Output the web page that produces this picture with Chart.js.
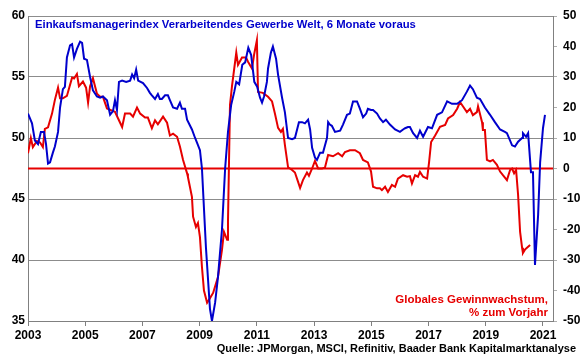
<!DOCTYPE html>
<html><head><meta charset="utf-8">
<script src="https://cdn.jsdelivr.net/npm/chart.js@4"></script>
<style>html,body{margin:0;padding:0;background:#fff}#wrap{width:580px;height:359px}</style>
</head><body><div id="wrap"><canvas id="c" width="580" height="359"></canvas></div>
<script>
const titleText = "Einkaufsmanagerindex Verarbeitendes Gewerbe Welt, 6 Monate voraus";
const redLabel = ["Globales Gewinnwachstum,", "% zum Vorjahr"];
const sourceText = "Quelle: JPMorgan, MSCI, Refinitiv, Baader Bank Kapitalmarktanalyse";
const xTicks = [2003,2005,2007,2009,2011,2013,2015,2017,2019,2021];
const leftTicks = [35,40,45,50,55,60];
const rightTicks = [-50,-40,-30,-20,-10,0,10,20,30,40,50];

// PMI (left axis), 6 months ahead
const pmiT = [2003.00,2003.14,2003.24,2003.35,2003.45,2003.56,2003.63,2003.70,2003.77,2003.87,2003.94,2004.05,2004.12,2004.22,2004.29,2004.36,2004.47,2004.54,2004.61,2004.71,2004.82,2004.89,2004.96,2005.06,2005.17,2005.27,2005.41,2005.52,2005.62,2005.76,2005.87,2005.97,2006.04,2006.11,2006.18,2006.29,2006.43,2006.57,2006.64,2006.71,2006.78,2006.85,2007.02,2007.16,2007.26,2007.33,2007.44,2007.54,2007.61,2007.68,2007.79,2007.89,2007.96,2008.07,2008.21,2008.31,2008.38,2008.49,2008.56,2008.73,2008.84,2008.91,2009.01,2009.08,2009.22,2009.36,2009.43,2009.54,2009.64,2009.78,2009.89,2009.99,2010.10,2010.21,2010.28,2010.38,2010.49,2010.59,2010.70,2010.80,2010.91,2011.01,2011.11,2011.18,2011.25,2011.35,2011.39,2011.49,2011.56,2011.67,2011.74,2011.88,2011.98,2012.09,2012.23,2012.33,2012.47,2012.58,2012.68,2012.79,2012.86,2012.93,2013.03,2013.10,2013.21,2013.31,2013.45,2013.49,2013.55,2013.62,2013.73,2013.91,2014.01,2014.15,2014.25,2014.36,2014.50,2014.60,2014.71,2014.82,2014.88,2014.99,2015.06,2015.20,2015.30,2015.41,2015.51,2015.65,2015.83,2016.00,2016.11,2016.18,2016.28,2016.35,2016.46,2016.60,2016.70,2016.81,2016.98,2017.12,2017.30,2017.47,2017.65,2017.82,2018.00,2018.17,2018.34,2018.45,2018.55,2018.69,2018.80,2018.97,2019.15,2019.32,2019.50,2019.67,2019.74,2019.92,2020.02,2020.13,2020.27,2020.30,2020.41,2020.48,2020.58,2020.65,2020.72,2020.83,2020.90,2021.00,2021.07];
const pmiV = [52.0,51.2,49.8,49.5,50.5,50.5,49.5,47.9,48.0,48.8,49.3,50.5,52.5,54.0,54.2,56.6,57.6,57.7,56.6,57.3,57.9,57.8,56.5,56.4,55.0,53.9,53.4,53.3,53.4,53.1,51.9,52.2,53.1,52.3,54.6,54.7,54.6,54.7,55.2,54.9,55.6,54.7,54.5,54.1,53.7,53.5,53.2,53.6,53.2,53.2,53.5,53.5,53.1,52.5,52.4,52.9,52.4,52.4,51.5,50.7,50.0,49.6,49.0,47.5,41.0,36.0,35.0,36.5,38.6,42.5,47.5,50.5,52.7,53.8,54.6,54.4,56.0,56.2,57.4,56.8,54.6,54.2,53.3,52.9,53.4,54.6,55.7,57.0,57.5,56.5,55.2,53.3,52.1,50.0,49.9,50.0,51.3,51.3,51.2,51.5,50.7,49.2,48.4,48.2,48.8,48.8,50.0,51.3,51.1,51.0,50.5,50.6,51.1,51.9,52.0,53.0,53.0,52.4,51.7,52.0,52.4,52.3,52.3,52.0,51.6,51.3,51.5,51.1,50.7,50.5,50.7,50.8,50.9,50.9,50.4,50.0,50.6,50.1,50.9,50.8,51.9,52.1,53.0,52.8,52.8,53.1,53.8,54.3,54.0,53.3,53.2,52.5,51.9,51.3,50.7,50.5,50.4,49.4,49.3,49.7,50.0,50.4,50.1,50.4,47.2,47.2,39.6,43.7,48.0,50.8,51.9];

// Global earnings growth, % y/y (right axis)
const epsT = [2003.00,2003.10,2003.17,2003.31,2003.42,2003.52,2003.59,2003.70,2003.84,2003.94,2004.05,2004.12,2004.22,2004.36,2004.54,2004.61,2004.71,2004.78,2004.92,2005.03,2005.10,2005.17,2005.27,2005.41,2005.52,2005.62,2005.76,2005.94,2006.04,2006.15,2006.29,2006.39,2006.57,2006.67,2006.81,2006.92,2007.09,2007.19,2007.33,2007.44,2007.54,2007.72,2007.86,2007.96,2008.07,2008.21,2008.31,2008.42,2008.56,2008.59,2008.73,2008.77,2008.87,2008.94,2009.01,2009.08,2009.15,2009.26,2009.36,2009.47,2009.64,2009.78,2009.85,2009.96,2009.99,2010.06,2010.13,2010.28,2010.34,2010.48,2010.62,2010.69,2010.83,2010.90,2011.00,2011.04,2011.21,2011.39,2011.53,2011.63,2011.74,2011.84,2011.91,2011.98,2012.09,2012.23,2012.33,2012.44,2012.51,2012.61,2012.75,2012.82,2012.93,2013.03,2013.14,2013.28,2013.38,2013.49,2013.66,2013.84,2013.98,2014.08,2014.25,2014.43,2014.60,2014.71,2014.88,2014.99,2015.06,2015.20,2015.30,2015.37,2015.48,2015.58,2015.72,2015.83,2015.93,2016.11,2016.25,2016.35,2016.42,2016.53,2016.63,2016.70,2016.81,2016.95,2017.02,2017.09,2017.23,2017.40,2017.58,2017.68,2017.86,2018.00,2018.10,2018.20,2018.34,2018.45,2018.55,2018.69,2018.73,2018.87,2018.90,2018.97,2019.04,2019.15,2019.25,2019.39,2019.50,2019.60,2019.74,2019.85,2019.92,2019.99,2020.06,2020.13,2020.20,2020.27,2020.30,2020.37,2020.44,2020.55];
const epsV = [5,10,7,9,8.5,7,13,13.5,18,22.5,26.5,23,23,23.8,29.8,29.5,31,27,28.5,26.5,21.6,27,29.6,24.5,23.5,23.5,19.7,19,18.6,16.4,13.6,18,18,17,20,18,16.7,16.7,13.2,15.8,14.5,17,15,10.8,11.4,10.4,7.2,2.8,-1.6,-2.8,-9.3,-15.8,-19.2,-17.9,-22.5,-32.3,-40,-44,-42.5,-40.8,-35.6,-26.7,-20.8,-23.4,-17.5,20.8,27,38,34,36.4,36.4,35,32.8,37.2,42,25.1,24.8,23.5,22,18,13.3,12,13,7.7,0.4,-0.5,-1.3,-4.4,-6.4,-3.8,-1.3,-2.4,0,2.5,0,0,0.3,4.4,4,5,4,5.4,6,6,5,2.8,2,-1,-6,-6.5,-6.5,-7.1,-6,-7.7,-5.4,-6,-3.3,-2.2,-2.7,-2.5,-4.9,-2.2,-2.7,-1.1,-2.7,-3.3,2.2,8.7,10.8,13.7,14.3,16.4,17.5,19.6,21.8,20.4,18.5,19.6,17.5,18.5,20.4,15.2,12.6,12.6,2.8,2.3,2.8,1.2,-1,-2.2,-3.8,-0.5,0,-1.6,-0.5,-8.7,-20.8,-26,-27.7,-26.6,-26,-25.1];

const zeroLine = [0, 0];
const xMin = 2003, xMax = 2021.35;

const BLUE = '#0000cc', RED = '#e60000';
const tickFont = {family: '"Liberation Sans", Arial, sans-serif', size: 12, weight: 'bold'};

const textPlugin = {
  id: 'texts',
  afterDraw(chart) {
    const ctx = chart.ctx;
    ctx.save();
    ctx.textBaseline = 'middle';
    ctx.font = 'bold 11.3px "Liberation Sans", Arial, sans-serif';
    ctx.fillStyle = BLUE;
    ctx.textAlign = 'left';
    ctx.fillText(titleText, 35, 25);
    ctx.fillStyle = RED;
    ctx.textAlign = 'right';
    ctx.font = 'bold 11.5px "Liberation Sans", Arial, sans-serif';
    ctx.fillText(redLabel[0], 548, 300);
    ctx.fillText(redLabel[1], 548, 313);
    ctx.fillStyle = '#000';
    ctx.font = 'bold 11px "Liberation Sans", Arial, sans-serif';
    ctx.fillText(sourceText, 576, 349);
    ctx.restore();
  }
};

new Chart(document.getElementById('c'), {
  type: 'line',
  data: {
    datasets: [
      {label: 'zero', data: [{x: xMin, y: zeroLine[0]}, {x: xMax, y: zeroLine[1]}], yAxisID: 'y2', borderColor: RED, borderWidth: 2, pointRadius: 0, order: 3},
      {label: 'EPS', data: epsT.map((t, i) => ({x: t, y: epsV[i]})), yAxisID: 'y2', borderColor: RED, borderWidth: 2, pointRadius: 0, tension: 0, order: 2},
      {label: 'PMI', data: pmiT.map((t, i) => ({x: t, y: pmiV[i]})), yAxisID: 'y', borderColor: BLUE, borderWidth: 2, pointRadius: 0, tension: 0, order: 1}
    ]
  },
  plugins: [textPlugin],
  options: {
    responsive: false,
    animation: false,
    layout: {padding: {top: 16, left: 0, right: 0, bottom: 0}},
    plugins: {legend: {display: false}, tooltip: {enabled: false}},
    scales: {
      x: {
        type: 'linear', min: xMin, max: xMax,
        afterBuildTicks: s => { s.ticks = xTicks.map(v => ({value: v})); },
        afterFit: s => { s.height = 38; },
        ticks: {font: tickFont, color: '#000', padding: 2, maxRotation: 0, autoSkip: false, callback: v => String(v)},
        grid: {drawOnChartArea: false, drawTicks: true, tickLength: 5, color: '#808080'},
        border: {color: '#808080'}
      },
      y: {
        position: 'left', min: 35, max: 60,
        afterBuildTicks: s => { s.ticks = leftTicks.map(v => ({value: v})); },
        afterFit: s => { s.width = 28; },
        ticks: {font: tickFont, color: '#000', padding: 3},
        grid: {color: '#8c8c8c', lineWidth: 1, drawTicks: false},
        border: {color: '#808080'}
      },
      y2: {
        position: 'right', min: -50, max: 50,
        afterBuildTicks: s => { s.ticks = rightTicks.map(v => ({value: v})); },
        afterFit: s => { s.width = 27; },
        ticks: {font: tickFont, color: '#000', padding: 6},
        grid: {drawOnChartArea: false, drawTicks: true, tickLength: 4, color: '#b0b0b0'},
        border: {color: '#808080'}
      }
    }
  }
});
</script></body></html>
